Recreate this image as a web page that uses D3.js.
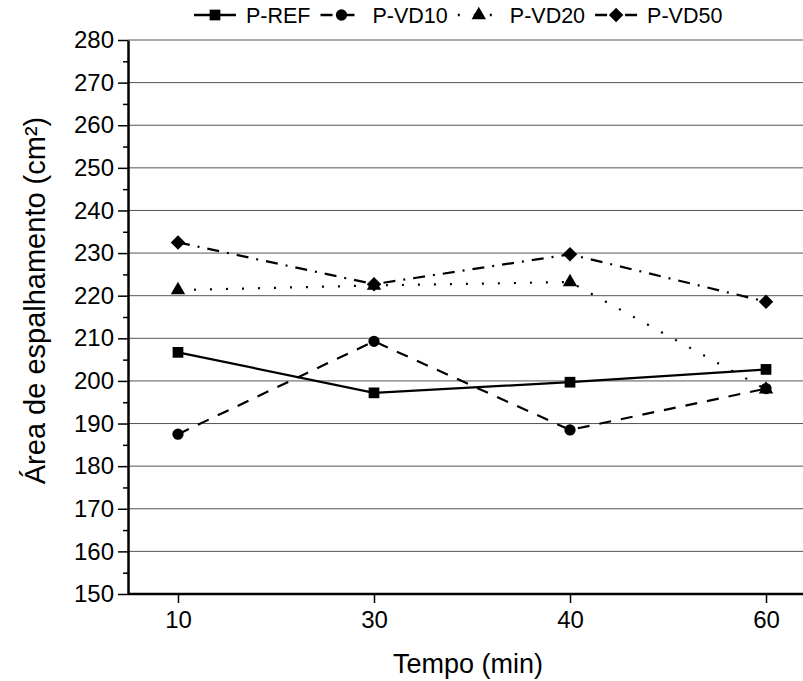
<!DOCTYPE html>
<html>
<head>
<meta charset="utf-8">
<script src="https://cdn.jsdelivr.net/npm/d3@7"></script>
<style>
  body { margin: 0; background: #fff; }
  svg { display: block; font-family: "Liberation Sans", Arial, sans-serif; }
</style>
</head>
<body>
<div id="chart"></div>
<script>
// Data
const tempos = ["10", "30", "40", "60"];
const pRef  = [206.7, 197.2, 199.7, 202.7];
const pVd10 = [187.5, 209.3, 188.5, 198.2];
const pVd20 = [221.3, 222.4, 223.2, 198.0];
const pVd50 = [232.5, 222.7, 229.7, 218.6];
const yTicks = [150, 160, 170, 180, 190, 200, 210, 220, 230, 240, 250, 260, 270, 280];

// diamond = square turned 45 degrees
const symbolDiamondWide = {
    draw(context, size) {
        const r = Math.sqrt(size / 2);
        context.moveTo(0, -r);
        context.lineTo(r, 0);
        context.lineTo(0, r);
        context.lineTo(-r, 0);
        context.closePath();
    }
};

const series = [
    { name: "P-REF",  values: pRef,  symbol: d3.symbolSquare,    size: 115, dash: null },
    { name: "P-VD10", values: pVd10, symbol: d3.symbolCircle,    size: 100, dash: "12,10" },
    { name: "P-VD20", values: pVd20, symbol: d3.symbolTriangle,  size: 90,  dash: "2,14" },
    { name: "P-VD50", values: pVd50, symbol: symbolDiamondWide,  size: 105, dash: "12,8,2,8" }
];

const W = 803, H = 681;
const margin = { top: 40, right: 0, bottom: 87, left: 128 };

const svg = d3.select("#chart")
    .append("svg")
    .attr("width", W)
    .attr("height", H);

// Scales
const x = d3.scalePoint()
    .domain(tempos)
    .range([margin.left, 816])
    .padding(0.255);

const y = d3.scaleLinear()
    .domain([150, 280])
    .range([H - margin.bottom, margin.top]);

// Grid lines
svg.append("g")
    .selectAll("line")
    .data(yTicks)
    .join("line")
    .attr("x1", margin.left)
    .attr("x2", W)
    .attr("y1", d => y(d))
    .attr("y2", d => y(d))
    .attr("stroke", "#555")
    .attr("stroke-width", 1);

// Y axis, minor ticks first
svg.append("g")
    .attr("transform", `translate(${margin.left},0)`)
    .call(d3.axisLeft(y).tickValues(d3.range(155, 280, 10)).tickSize(5).tickFormat(""))
    .call(g => g.select(".domain").remove())
    .selectAll("line").attr("stroke-width", 1.5);

const yAxis = svg.append("g")
    .attr("transform", `translate(${margin.left},0)`)
    .call(d3.axisLeft(y).tickValues(yTicks).tickSize(10).tickSizeOuter(0).tickPadding(4));
yAxis.select(".domain").attr("stroke-width", 2.5);
yAxis.selectAll(".tick line").attr("stroke-width", 1.5);
yAxis.selectAll("text")
    .attr("font-size", 24)
    .attr("fill", "#000");

// X axis
const xAxis = svg.append("g")
    .attr("transform", `translate(0,${y(150)})`)
    .call(d3.axisBottom(x).tickSize(9).tickSizeOuter(0).tickPadding(8));
xAxis.select(".domain")
    .attr("d", `M${margin.left},0H${W}`)
    .attr("stroke-width", 2.5);
xAxis.selectAll(".tick line").attr("stroke-width", 1.5);
xAxis.selectAll("text")
    .attr("font-size", 24)
    .attr("fill", "#000");

// Axis titles
svg.append("text")
    .attr("x", 468)
    .attr("y", 673)
    .attr("text-anchor", "middle")
    .attr("font-size", 27)
    .text("Tempo (min)");

svg.append("text")
    .attr("transform", `translate(45,${(118 + 483) / 2}) rotate(-90)`)
    .attr("text-anchor", "middle")
    .attr("font-size", 29)
    .text("Área de espalhamento (cm²)");

// Lines and markers
const line = d3.line()
    .x((d, i) => x(tempos[i]))
    .y(d => y(d));

series.forEach(s => {
    svg.append("path")
        .datum(s.values)
        .attr("fill", "none")
        .attr("stroke", "#000")
        .attr("stroke-width", 2.2)
        .attr("stroke-dasharray", s.dash)
        .attr("d", line);

    svg.append("g")
        .selectAll("path")
        .data(s.values)
        .join("path")
        .attr("transform", (d, i) => `translate(${x(tempos[i])},${y(d)})`)
        .attr("d", d3.symbol(s.symbol, s.size))
        .attr("fill", "#000");
});

// Legend
const legend = svg.append("g").attr("transform", "translate(0,15)");
let cx = 215;
series.forEach(s => {
    const item = legend.append("g");
    item.append("line")
        .attr("x1", cx - 21).attr("x2", cx + 21)
        .attr("stroke", "#000")
        .attr("stroke-width", 2.5)
        .attr("stroke-dasharray", s.dash);
    item.append("path")
        .attr("transform", `translate(${cx},0)`)
        .attr("d", d3.symbol(s.symbol, s.size))
        .attr("fill", "#000");
    const t = item.append("text")
        .attr("x", cx + 31)
        .attr("y", 7.5)
        .attr("font-size", 21.5)
        .text(s.name);
    cx += 31 + t.node().getComputedTextLength() + 31;
});
</script>
</body>
</html>
